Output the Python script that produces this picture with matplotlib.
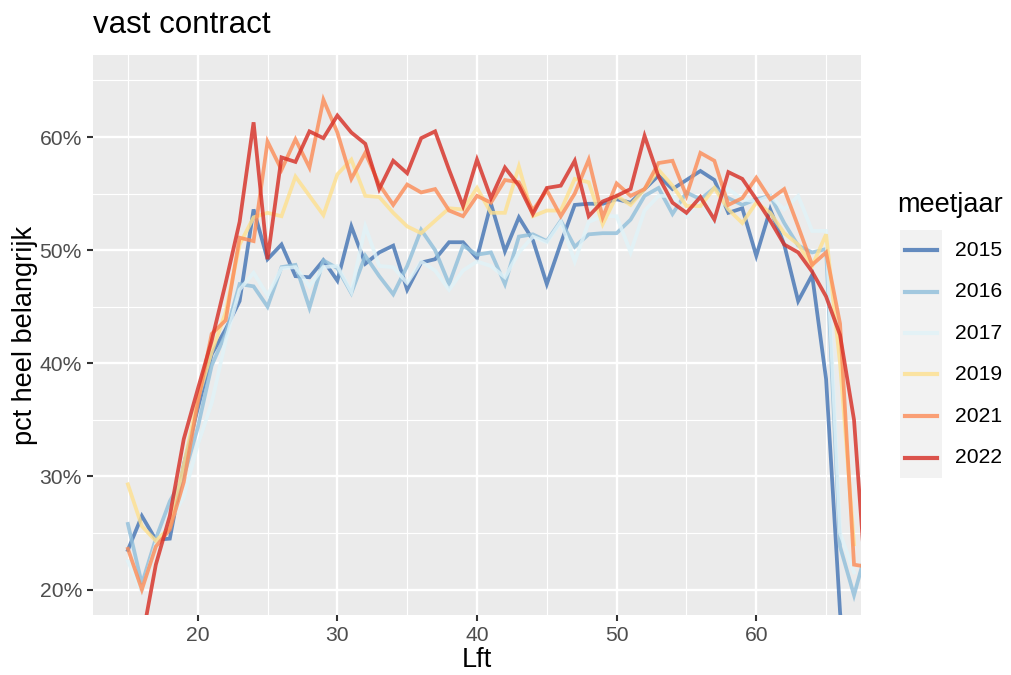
import matplotlib
matplotlib.use('Agg')
import matplotlib.pyplot as plt
from matplotlib.lines import Line2D
from matplotlib.patches import Rectangle
from matplotlib.ticker import FixedLocator, FuncFormatter

plt.rcParams['font.family'] = ['Liberation Sans', 'DejaVu Sans']

years = ['2015', '2016', '2017', '2019', '2021', '2022']
colors = ['#4575b4', '#91bfdb', '#e0f3f8', '#fee090', '#fc8d59', '#d73027']

lft_2015 = list(range(15, 68))
pct_2015 = [23.5, 26.5, 24.4, 24.5, 31.0, 36.0, 40.8, 43.0, 45.5, 53.6,
            49.2, 50.5, 47.7, 47.6, 49.1, 47.3, 52.1, 48.8, 49.8, 50.4,
            46.5, 48.9, 49.2, 50.7, 50.7, 49.3, 54.1, 49.9, 52.9, 50.9,
            47.0, 50.6, 54.0, 54.1, 54.1, 54.5, 54.2, 55.4, 56.6, 55.4,
            56.2, 57.0, 56.2, 53.3, 53.7, 49.5, 53.6, 50.5, 45.5, 47.8,
            38.6, 18.0, 5.0]

lft_2016 = list(range(15, 69))
pct_2016 = [25.8, 20.5, 24.5, 27.8, 30.0, 34.3, 39.8, 42.6, 47.0, 46.8,
            45.0, 48.5, 48.7, 44.9, 49.1, 48.4, 46.2, 49.5, 47.7, 46.1,
            48.6, 51.8, 50.0, 47.0, 50.4, 49.6, 49.8, 47.0, 51.2, 51.4,
            50.8, 52.6, 50.3, 51.4, 51.5, 51.5, 52.7, 54.8, 55.5, 53.2,
            55.1, 54.5, 55.5, 54.6, 54.0, 54.5, 54.8, 52.4, 50.4, 49.8,
            50.1, 23.8, 19.5, 24.0]

lft_2017 = list(range(15, 68))
pct_2017 = [22.5, 19.8, 24.0, 26.0, 28.2, 32.8, 36.5, 42.0, 46.5, 48.0,
            46.0, 48.4, 48.5, 46.8, 48.5, 48.6, 46.3, 52.1, 48.6, 48.5,
            47.1, 49.0, 48.2, 46.5, 48.2, 49.0, 48.6, 47.6, 49.8, 51.2,
            50.7, 52.5, 49.0, 52.5, 53.0, 53.0, 49.8, 53.5, 54.8, 54.8,
            53.0, 54.5, 52.4, 55.4, 54.5, 54.3, 54.8, 53.6, 54.8, 51.7,
            51.7, 25.0, 21.5]

lft_2019 = list(range(15, 68))
pct_2019 = [29.3, 25.6, 24.3, 25.5, 31.0, 36.8, 41.0, 44.5, 50.5, 52.9,
            53.3, 53.0, 56.5, 54.8, 53.1, 56.7, 58.0, 54.8, 54.7, 53.3,
            52.1, 51.5, 52.6, 53.7, 53.6, 55.5, 53.3, 53.3, 57.4, 53.0,
            53.5, 53.5, 56.3, 56.0, 52.3, 54.8, 54.0, 55.4, 57.1, 55.7,
            53.9, 53.9, 55.5, 53.6, 52.4, 54.2, 53.3, 51.5, 50.5, 48.6,
            51.4, 40.0, 24.0]

lft_2021 = list(range(15, 69))
pct_2021 = [23.6, 20.0, 23.8, 25.3, 29.5, 36.5, 42.6, 43.8, 51.1, 50.8,
            59.6, 57.1, 59.8, 57.3, 63.3, 60.4, 56.3, 58.6, 55.8, 54.0,
            55.8, 55.1, 55.4, 53.5, 53.0, 54.8, 54.2, 56.2, 56.0, 53.5,
            55.3, 53.0, 55.0, 58.0, 52.9, 55.9, 54.8, 55.4, 57.7, 57.9,
            54.8, 58.6, 57.9, 54.0, 54.6, 56.4, 54.5, 55.4, 52.1, 48.7,
            49.8, 43.5, 22.2, 22.0]

lft_2022 = list(range(16, 69))
pct_2022 = [15.5, 22.2, 26.5, 33.3, 37.7, 42.0, 47.1, 52.5, 61.3, 49.2,
            58.2, 57.8, 60.5, 59.9, 61.9, 60.4, 59.4, 55.4, 57.9, 56.8,
            59.9, 60.5, 57.1, 53.9, 58.0, 54.6, 57.3, 55.7, 53.2, 55.5,
            55.7, 57.9, 53.0, 54.3, 54.8, 55.4, 60.1, 56.5, 54.2, 53.3,
            54.7, 52.7, 56.9, 56.3, 54.5, 52.6, 50.5, 49.8, 48.1, 45.9,
            42.5, 35.0, 18.0]

series_x = [lft_2015, lft_2016, lft_2017, lft_2019, lft_2021, lft_2022]
series_y = [pct_2015, pct_2016, pct_2017, pct_2019, pct_2021, pct_2022]

x_ticks = [20, 30, 40, 50, 60]
y_ticks = [20, 30, 40, 50, 60]

W, H = 1011, 675
fig = plt.figure(figsize=(W / 100, H / 100), dpi=100)
fig.patch.set_facecolor('white')
ax = fig.add_axes([93 / W, 1 - 615 / H, (861 - 93) / W, (615 - 55) / H])
ax.set_facecolor('#EBEBEB')

for xs, ys, c in zip(series_x, series_y, colors):
    ax.plot(xs, ys, color=c, lw=2.7, alpha=0.82, solid_joinstyle='miter', zorder=3)

ax.set_xlim(12.5, 67.5)
ax.set_ylim(17.75, 67.25)
ax.xaxis.set_major_locator(FixedLocator(x_ticks))
ax.xaxis.set_minor_locator(FixedLocator([15, 25, 35, 45, 55, 65]))
ax.yaxis.set_major_locator(FixedLocator(y_ticks))
ax.yaxis.set_minor_locator(FixedLocator([25, 35, 45, 55, 65]))
ax.yaxis.set_major_formatter(FuncFormatter(lambda v, p: f'{v:.0f}%'))
ax.grid(which='major', color='white', lw=1.7, zorder=1)
ax.grid(which='minor', color='white', lw=0.85, zorder=1)
ax.set_axisbelow(True)
for s in ax.spines.values():
    s.set_visible(False)
ax.tick_params(which='major', length=4, width=1.5, color='#333333',
               labelsize=15.2, labelcolor='#4D4D4D', pad=4)
ax.tick_params(which='minor', length=0)

ax.set_xlabel('Lft', fontsize=19.5, color='black')
ax.xaxis.label.set_va('center')
ax.xaxis.set_label_coords(0.5, (615 - 660) / 560)
ax.set_ylabel('pct heel belangrijk', fontsize=19.5, color='black')
ax.yaxis.label.set_va('center')
ax.yaxis.set_label_coords((25 - 93) / 768, 0.5)
fig.text(93 / W, 1 - 25 / H, 'vast contract', fontsize=22.5, color='black',
         ha='left', va='center')

# legend
fig.text(897 / W, 1 - 205 / H, 'meetjaar', fontsize=19.5, ha='left', va='center')
fig.add_artist(Rectangle((900 / W, 1 - 478 / H), 42 / W, 248 / H,
                         transform=fig.transFigure, facecolor='#F2F2F2',
                         edgecolor='none'))
for i, (yr, c) in enumerate(zip(years, colors)):
    yc = 1 - (250 + i * 41.5) / H
    fig.add_artist(Line2D([905 / W, 937 / W], [yc, yc], transform=fig.transFigure,
                          color=c, lw=3.0, alpha=0.82))
    fig.text(955 / W, yc, yr, fontsize=15.2, ha='left', va='center', color='black')

fig.savefig('out.png', dpi=100)
